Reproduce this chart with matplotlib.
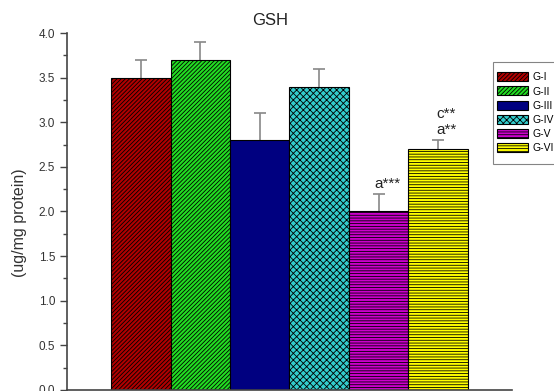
import numpy as np
import matplotlib
matplotlib.use("Agg")
import matplotlib.pyplot as plt
from matplotlib.path import Path
from matplotlib.ticker import MultipleLocator

plt.rcParams['font.family'] = ['Liberation Sans', 'DejaVu Sans']
plt.rcParams['hatch.linewidth'] = 0.6

# Data
groups = ["G-I", "G-II", "G-III", "G-IV", "G-V", "G-VI"]
gsh = [3.5, 3.7, 2.8, 3.4, 2.0, 2.7]
gshErr = [0.2, 0.2, 0.3, 0.2, 0.2, 0.1]
sigLabels = ["", "", "", "", "a***", "c**\na**"]

# Styles
colors = ["#B00000", "#22DD22", "#000080", "#33CCCC", "#CC00CC", "#FFFF00"]
hatches = ["////////", "////////", "", "xxxxx", "------", "------"]

fig = plt.figure(figsize=(5.54, 3.91), dpi=100)
axes = fig.add_axes([0.121, 0.0026, 0.803, 0.913])

xPos = np.arange(1, len(groups) + 1)
for i in range(len(groups)):
    axes.bar(xPos[i], gsh[i], width=1.0, color=colors[i], edgecolor="black",
             linewidth=0.8, hatch=hatches[i], label=groups[i], zorder=2)

# Upper error bars only
errTop = np.array(gsh) + np.array(gshErr)
axes.vlines(xPos, gsh, errTop, colors="#888888", linewidth=1.2, zorder=1)
axes.plot(xPos, errTop, linestyle="none", marker="_", markersize=8,
          markeredgewidth=1.2, color="#888888", zorder=1)

for i in range(len(groups)):
    if sigLabels[i]:
        axes.text(xPos[i] + 0.14, errTop[i] + 0.03, sigLabels[i], ha="center",
                  va="bottom", fontsize=11, linespacing=1.25, color="#222222")

axes.set_xlim(-0.24, 7.24)
axes.set_ylim(0.0, 4.0)
axes.yaxis.set_major_locator(MultipleLocator(0.5))
axes.yaxis.set_minor_locator(MultipleLocator(0.25))
axes.set_xticks([])
axes.tick_params(axis="y", which="major", length=5, width=1, labelsize=8.5,
                 colors="#444444", labelcolor="#333333", direction="out")
axes.tick_params(axis="y", which="minor", length=3, width=1, colors="#444444")
axes.spines["top"].set_visible(False)
axes.spines["right"].set_visible(False)
axes.spines["left"].set_color("#444444")
axes.spines["bottom"].set_color("#444444")
axes.spines["left"].set_linewidth(1.2)
axes.spines["bottom"].set_linewidth(1.2)
axes.set_ylabel("(ug/mg protein)", fontsize=11.5, color="#333333")
axes.yaxis.set_label_coords(-0.09, 0.468)
axes.set_title("GSH", fontsize=12, color="#222222", x=0.457, pad=5.5)


# Legend frame with more room above and below than at the sides
def _tallBox(x0, y0, width, height, mutation_size):
    dy = 0.6 * mutation_size
    return Path.unit_rectangle().transformed(
        matplotlib.transforms.Affine2D().scale(width, height + 2 * dy).translate(x0, y0 - dy))


leg = fig.legend(loc="upper left", bbox_to_anchor=(0.890, 0.826), fontsize=7.5,
                 handlelength=3.0, handleheight=0.95, labelspacing=0.4,
                 handletextpad=0.4, borderpad=0.4, borderaxespad=0.0,
                 frameon=True, fancybox=False)
leg.get_frame().set_boxstyle(_tallBox)
leg.get_frame().set_edgecolor("#666666")
leg.get_frame().set_linewidth(0.8)

plt.savefig("out.png", dpi=100)
